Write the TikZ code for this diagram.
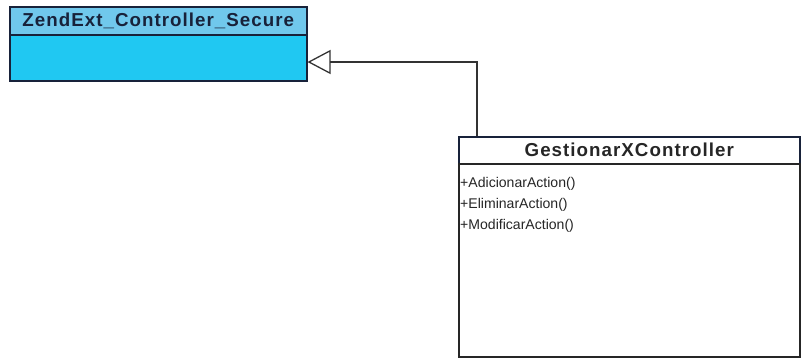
\documentclass[tikz,border=0pt]{standalone}
\usepackage{fontspec}
\setmainfont{Liberation Sans}
\usetikzlibrary{arrows.meta}
\definecolor{headblue}{RGB}{112,200,236}
\definecolor{bodyblue}{RGB}{32,200,242}
\definecolor{navy}{RGB}{24,34,58}
\tikzset{
  classbox/.style={draw=navy, line width=1.3pt, anchor=north west, inner sep=0pt},
  classname/.style={classbox, font=\fontsize{16}{19}\selectfont\bfseries\addfontfeatures{LetterSpace=5.5}},
  method/.style={anchor=west, inner sep=0pt, text=black!85, font=\fontsize{12}{14}\selectfont},
  inherit/.style={draw=black!80, line width=1.1pt, -{Triangle[open, length=0.69cm, width=0.72cm]}}
}
\begin{document}
\begin{tikzpicture}[x=0.03cm, y=-0.03cm]
  \useasboundingbox (0,0) rectangle (801,360);
  % superclass
  \node[classname, fill=headblue, text=navy, minimum width=8.91cm, minimum height=0.84cm] (zhead) at (9,6) {ZendExt\_Controller\_Secure};
  \node[classbox, fill=bodyblue, minimum width=8.91cm, minimum height=1.38cm] (zbody) at (9,34) {};
  % subclass
  \node[classname, fill=white, text=black!85, minimum width=10.23cm, minimum height=0.81cm] (ghead) at (458,136) {GestionarXController};
  \node[classbox, draw=black!85, fill=white, minimum width=10.23cm, minimum height=5.79cm] (gbody) at (458,163) {};
  \node[method] (madd) at (460,184) {+AdicionarAction()};
  \node[method] (mdel) at (460,205) {+EliminarAction()};
  \node[method] (mmod) at (460,226) {+ModificarAction()};
  % generalization
  \coordinate (bend) at (477,62);
  \draw[inherit] (ghead.north -| bend) -- (bend) -- (zbody.east |- bend);
\end{tikzpicture}
\end{document}
